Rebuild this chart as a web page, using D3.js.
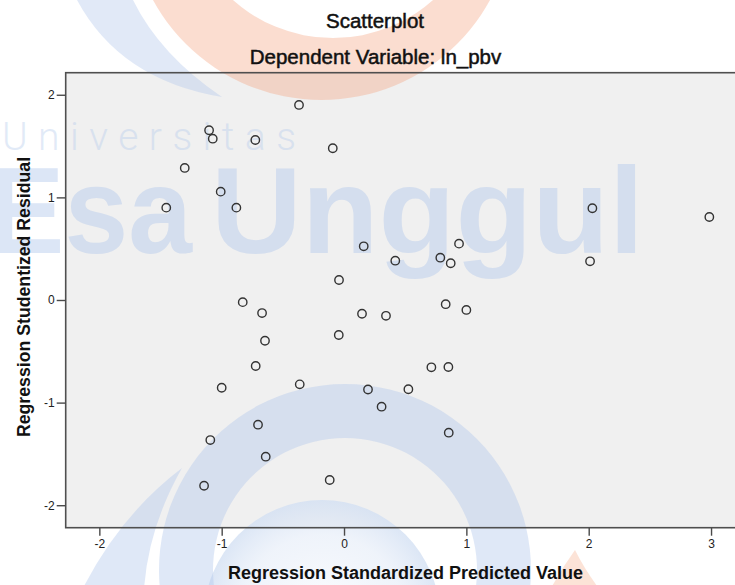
<!DOCTYPE html>
<html>
<head>
<meta charset="utf-8">
<script src="https://cdn.jsdelivr.net/npm/d3@7"></script>
<style>
  html, body { margin: 0; padding: 0; background: #ffffff; }
  svg { display: block; }
</style>
</head>
<body>
<div id="chart"></div>
<script>
// ---------------- data ----------------
const chartTitle = "Scatterplot";
const chartSubtitle = "Dependent Variable: ln_pbv";
const xAxisTitle = "Regression Standardized Predicted Value";
const yAxisTitle = "Regression Studentized Residual";

const predictedValues = [
  -0.368, -1.103, -1.073, -0.725, -0.092, -1.302, -1.008, -1.453, -0.880, 2.030,
   2.986,  0.161,  0.940,  0.787,  0.872,  0.419,  2.011, -0.041, -0.828, -0.670,
   0.831,  1.000,  0.147,  0.343, -0.043, -0.646, -0.722,  0.714,  0.853, -0.362,
  -1.000,  0.196,  0.526,  0.307, -0.703,  0.856, -1.093, -0.640, -0.117, -1.144
];
const studentizedResiduals = [
   1.901,  1.654,  1.572,  1.559,  1.479,  1.287,  1.056,  0.900,  0.900,  0.894,
   0.809,  0.523,  0.549,  0.412,  0.358,  0.383,  0.377,  0.195, -0.021, -0.127,
  -0.041, -0.097, -0.134, -0.154, -0.341, -0.397, -0.643, -0.656, -0.653, -0.822,
  -0.855, -0.872, -0.870, -1.040, -1.215, -1.293, -1.365, -1.527, -1.754, -1.810
];
const xTickValues = [-2, -1, 0, 1, 2, 3];
const xTickLabels = ["-2", "-1", "0", "1", "2", "3"];
const yTickValues = [-2, -1, 0, 1, 2];
const yTickLabels = ["-2", "-1", "0", "1", "2"];
const xDomain = [-2.275, 3.21];
const yDomain = [-2.219, 2.215];

// ---------------- layout ----------------
const W = 735, H = 585;
const plot = { left: 65.7, top: 72.7, bottom: 527.7 };
const pxPerX = 122.34;
plot.right = plot.left + (xDomain[1] - xDomain[0]) * pxPerX;

const FONT = "'Liberation Sans', Arial, Helvetica, sans-serif";

const svg = d3.select("#chart").append("svg")
  .attr("width", W).attr("height", H)
  .attr("viewBox", `0 0 ${W} ${H}`);

svg.append("rect").attr("width", W).attr("height", H).attr("fill", "#ffffff");

const x = d3.scaleLinear().domain(xDomain).range([plot.left, plot.right]);
const y = d3.scaleLinear().domain(yDomain).range([plot.bottom, plot.top]);

// plot background
svg.append("rect")
  .attr("x", plot.left).attr("y", plot.top)
  .attr("width", plot.right - plot.left).attr("height", plot.bottom - plot.top)
  .attr("fill", "#f0f0f0");

// ---------------- watermark (decorative logo) ----------------
const wm = svg.append("g").attr("class", "watermark").style("pointer-events", "none");
const defs = svg.append("defs");
const grad = defs.append("radialGradient").attr("id", "discGrad")
  .attr("cx", "50%").attr("cy", "50%").attr("r", "50%");
grad.append("stop").attr("offset", "0%").attr("stop-color", "#ffffff").attr("stop-opacity", 0.7);
grad.append("stop").attr("offset", "70%").attr("stop-color", "#dfe8f6").attr("stop-opacity", 0.5);
grad.append("stop").attr("offset", "100%").attr("stop-color", "#d3e0f3").attr("stop-opacity", 0.8);

const wmBlue = "#b3c9ec";
const wmPeach = "#f4a27c";

function circlePath(cx, cy, r) {
  return `M${cx - r},${cy} a${r},${r} 0 1,0 ${2 * r},0 a${r},${r} 0 1,0 ${-2 * r},0 Z`;
}
// orange crescent at top
wm.append("path")
  .attr("d", circlePath(321.5, -92, 192) + circlePath(333, -112.6, 150.6))
  .attr("fill-rule", "evenodd")
  .attr("fill", wmPeach).attr("opacity", 0.36);
// blue swoosh at top-left
wm.append("path")
  .attr("d", "M77,0 Q120,80 222,97 Q160,55 133,0 Z")
  .attr("fill", wmBlue).attr("opacity", 0.4);
// light inner disc at bottom
wm.append("circle").attr("cx", 322).attr("cy", 618).attr("r", 118)
  .attr("fill", "url(#discGrad)");
// big blue ring at bottom
const ringArc = d3.arc().innerRadius(132).outerRadius(186)
  .startAngle(-Math.PI * 0.62).endAngle(Math.PI * 0.62);
wm.append("path").attr("transform", "translate(345,570)")
  .attr("d", ringArc())
  .attr("fill", wmBlue).attr("opacity", 0.42);
// blue swoosh at bottom-left
wm.append("path")
  .attr("d", "M182,468 Q120,515 82,590 L144,590 Q148,528 182,468 Z")
  .attr("fill", wmBlue).attr("opacity", 0.42);
// peach tip at bottom-right
wm.append("path")
  .attr("d", "M575,550 Q562,568 550,590 L600,590 Q585,570 575,550 Z")
  .attr("fill", wmPeach).attr("opacity", 0.3);
// texts
wm.append("text").text("Universitas")
  .attr("x", 2).attr("y", 150)
  .attr("textLength", 294).attr("lengthAdjust", "spacing")
  .attr("font-family", "Roboto, 'Open Sans', sans-serif").attr("font-weight", 300)
  .attr("font-size", 39).attr("fill", wmBlue).attr("opacity", 0.38);
wm.append("text").text("Esa")
  .attr("x", -12).attr("y", 253)
  .attr("textLength", 204).attr("lengthAdjust", "spacingAndGlyphs")
  .attr("font-family", FONT).attr("font-weight", "bold")
  .attr("font-size", 123).attr("fill", wmBlue).attr("opacity", 0.45);
wm.append("text").text("Unggul")
  .attr("x", 211).attr("y", 253)
  .attr("textLength", 433).attr("lengthAdjust", "spacingAndGlyphs")
  .attr("font-family", FONT).attr("font-weight", "bold")
  .attr("font-size", 123).attr("fill", wmBlue).attr("opacity", 0.45);

// ---------------- frame ----------------
svg.append("rect")
  .attr("x", plot.left).attr("y", plot.top)
  .attr("width", plot.right - plot.left).attr("height", plot.bottom - plot.top)
  .attr("fill", "none").attr("stroke", "#4f4f4f").attr("stroke-width", 1.6);

// ---------------- axes ----------------
const xAxis = d3.axisBottom(x)
  .tickValues(xTickValues)
  .tickFormat((d, i) => xTickLabels[i])
  .tickSize(8).tickPadding(4).tickSizeOuter(0);
const yAxis = d3.axisLeft(y)
  .tickValues(yTickValues)
  .tickFormat((d, i) => yTickLabels[i])
  .tickSize(9).tickPadding(2).tickSizeOuter(0);

const gx = svg.append("g").attr("transform", `translate(0,${plot.bottom})`).call(xAxis);
const gy = svg.append("g").attr("transform", `translate(${plot.left},0)`).call(yAxis);
[gx, gy].forEach(g => {
  g.select(".domain").remove();
  g.selectAll(".tick line").attr("stroke", "#4a4a4a").attr("stroke-width", 1.4);
  g.selectAll(".tick text")
    .attr("font-family", FONT).attr("font-size", 12).attr("fill", "#222");
});

// ---------------- points ----------------
const pts = predictedValues.map((v, i) => ({ x: v, y: studentizedResiduals[i] }));
svg.append("g").selectAll("circle").data(pts).join("circle")
  .attr("cx", d => x(d.x)).attr("cy", d => y(d.y)).attr("r", 4.2)
  .attr("fill", "none").attr("stroke", "#333333").attr("stroke-width", 1.4);

// ---------------- titles ----------------
svg.append("text").text(chartTitle)
  .attr("x", 375).attr("y", 28).attr("text-anchor", "middle")
  .attr("font-family", FONT).attr("font-size", 20.5).attr("fill", "#111")
  .attr("stroke", "#111").attr("stroke-width", 0.5);
svg.append("text").text(chartSubtitle)
  .attr("x", 375.5).attr("y", 64).attr("text-anchor", "middle")
  .attr("font-family", FONT).attr("font-size", 20.5).attr("fill", "#111")
  .attr("stroke", "#111").attr("stroke-width", 0.5);
svg.append("text").text(xAxisTitle)
  .attr("x", 405.5).attr("y", 579).attr("text-anchor", "middle")
  .attr("font-family", FONT).attr("font-weight", "bold").attr("font-size", 18).attr("fill", "#111");
svg.append("text").text(yAxisTitle)
  .attr("transform", "translate(30,297) rotate(-90)").attr("text-anchor", "middle")
  .attr("font-family", FONT).attr("font-weight", "bold").attr("font-size", 17.7).attr("fill", "#111");
</script>
</body>
</html>
